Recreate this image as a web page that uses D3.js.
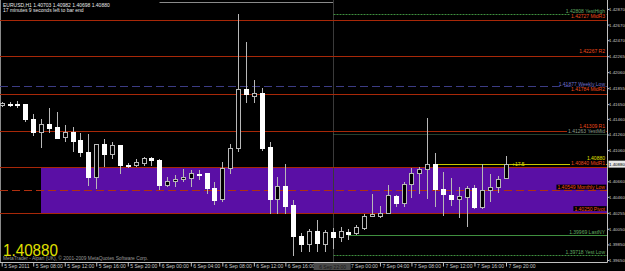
<!DOCTYPE html>
<html>
<head>
<meta charset="utf-8">
<script src="https://cdn.jsdelivr.net/npm/d3@7"></script>
<style>
body { margin: 0; background: #000; }
svg { display: block; font-family: "Liberation Sans", Arial, sans-serif; }
</style>
</head>
<body>
<div id="chart"></div>
<script>
// EURUSD H1, 5 Sep 2011 04:00 .. 7 Sep 2011 20:00
const firstBar = new Date(2011, 8, 5, 4);
const opens = [1.41638, 1.41657, 1.41654, 1.41647, 1.41455, 1.41288, 1.41395, 1.41352, 1.41224, 1.41292,
    1.41186, 1.41035, 1.40719, 1.41134, 1.41010, 1.41125, 1.40873, 1.40865, 1.40898, 1.40955,
    1.40929, 1.40608, 1.40663, 1.40685, 1.40706, 1.40757, 1.40766, 1.40578, 1.40429, 1.40826,
    1.41083, 1.41840, 1.41758, 1.41796, 1.41100, 1.40436, 1.40595, 1.40356, 1.39958, 1.39855,
    1.40026, 1.39851, 1.40005, 1.39949, 1.40013, 1.39992, 1.40064, 1.40214, 1.40211, 1.40257,
    1.40475, 1.40385, 1.40625, 1.40770, 1.40814, 1.40878, 1.40557, 1.40484, 1.40433, 1.40462,
    1.40578, 1.40326, 1.40552, 1.40590, 1.40703];
const highs = [1.41677, 1.41681, 1.41686, 1.41651, 1.41523, 1.41459, 1.41600, 1.41549, 1.41382, 1.41352,
    1.41279, 1.41266, 1.41138, 1.41198, 1.41168, 1.41128, 1.40898, 1.40942, 1.40975, 1.40975,
    1.40942, 1.40719, 1.40740, 1.40814, 1.40808, 1.40805, 1.40768, 1.40654, 1.40907, 1.41138,
    1.42806, 1.42443, 1.41959, 1.41860, 1.41160, 1.40719, 1.40882, 1.40420, 1.39996, 1.40048,
    1.40163, 1.40035, 1.40061, 1.40070, 1.40052, 1.40095, 1.40240, 1.40497, 1.40343, 1.40608,
    1.40480, 1.40647, 1.40826, 1.40847, 1.41476, 1.41027, 1.40775, 1.40698, 1.40590, 1.40599,
    1.40608, 1.40878, 1.40750, 1.40728, 1.40982];
const lows = [1.41626, 1.41632, 1.41617, 1.41437, 1.41254, 1.41103, 1.41296, 1.41215, 1.41180, 1.41052,
    1.40984, 1.40616, 1.40578, 1.40856, 1.40955, 1.40762, 1.40839, 1.40860, 1.40869, 1.40869,
    1.40565, 1.40603, 1.40599, 1.40667, 1.40603, 1.40689, 1.40513, 1.40368, 1.40407, 1.40770,
    1.41052, 1.41681, 1.41681, 1.41061, 1.40253, 1.40257, 1.40249, 1.39718, 1.39769, 1.39765,
    1.39769, 1.39769, 1.39804, 1.39898, 1.39916, 1.39984, 1.40044, 1.40211, 1.40202, 1.40249,
    1.40343, 1.40343, 1.40454, 1.40513, 1.40449, 1.40343, 1.40227, 1.40356, 1.40198, 1.40090,
    1.40313, 1.40313, 1.40411, 1.40526, 1.40698];
const closes = [1.41664, 1.41655, 1.41649, 1.41455, 1.41288, 1.41395, 1.41347, 1.41219, 1.41292, 1.41180,
    1.41035, 1.40715, 1.41134, 1.41010, 1.41125, 1.40865, 1.40865, 1.40911, 1.40955, 1.40929,
    1.40608, 1.40667, 1.40693, 1.40715, 1.40766, 1.40753, 1.40570, 1.40420, 1.40830, 1.41091,
    1.41840, 1.41776, 1.41796, 1.41091, 1.40436, 1.40599, 1.40347, 1.39958, 1.39855, 1.40022,
    1.39864, 1.40005, 1.39949, 1.40022, 1.39987, 1.40070, 1.40214, 1.40240, 1.40253, 1.40480,
    1.40385, 1.40621, 1.40762, 1.40814, 1.40878, 1.40557, 1.40493, 1.40433, 1.40467, 1.40578,
    1.40330, 1.40552, 1.40590, 1.40685, 1.40880];

const priceTicks = [1.42870, 1.42670, 1.42470, 1.42265, 1.42060, 1.41855, 1.41650, 1.41460, 1.41260,
    1.41060, 1.40660, 1.40460, 1.40255, 1.40050, 1.39850, 1.39650];

// horizontal levels drawn by indicators
const todayStart = new Date(2011, 8, 6, 22);
const nyStart = new Date(2011, 8, 7, 0);
const levelNames = ["YestHigh", "MidR3", "R2", "Weekly Low", "MidR2", "R1", "YestMid", "MidR1", "Monthly Low", "Pivot", "LastNY", "Yest Low"];
const levelPrices = [1.42808, 1.42727, 1.42267, 1.41877, 1.41784, 1.41309, 1.41263, 1.40840, 1.40549, 1.40250, 1.39969, 1.39718];
const levelKinds = ["day", "pivot", "pivot", "week", "pivot", "pivot", "mid", "pivot", "month", "pivot", "ny", "day"];
const levelStarts = [todayStart, null, null, null, null, null, todayStart, null, null, null, nyStart, todayStart];

const prevHigh = 1.42966, prevFrom = new Date(2011, 8, 6, 0);
const zoneTop = 1.40840, zoneBottom = 1.40250, zoneStart = new Date(2011, 8, 5, 9);
const bidFrom = new Date(2011, 8, 7, 11), bidPips = "+17.5";
const title = "EURUSD,H1  1.40703 1.40982 1.40698 1.40880";
const timer = "17 minutes 9 seconds left to bar end";
const copyright = "MetaTrader - Alpari (UK), \u00a9 2001-2009 MetaQuotes Software Corp.";

const W = 625, H = 271;
const plotRight = 607, plotBottom = 262;

const styles = {
    day:   {line: "#3f8f3f", dash: "2,1", text: "#62aa62"},
    pivot: {line: "#a82808", dash: null,  text: "#f04a1a"},
    week:  {line: "#3c3c84", dash: "8,4", text: "#7070cc"},
    mid:   {line: "#4d7d5a", dash: "1,1", text: "#8c9c8c"},
    month: {line: "#b03010", dash: "8,4", text: "#f04a1a"},
    ny:    {line: "#3f8f3f", dash: null,  text: "#62aa62"}
};

const bars = opens.map((o, i) => ({t: d3.timeHour.offset(firstBar, i), o: o, h: highs[i], l: lows[i], c: closes[i]}));
const last = bars[bars.length - 1];

const x = d3.scaleTime().domain([firstBar, last.t]).range([1.7, 506]);
const y = d3.scaleLinear().domain([1.39650, 1.42870]).range([260, 9]);
const px = v => Math.round(v) + 0.5;
const fmt = d3.format(".5f");

const svg = d3.select("#chart").append("svg")
    .attr("width", W)
    .attr("height", H);

svg.append("rect").attr("width", W).attr("height", H).attr("fill", "#000");

// purple zone
svg.append("rect")
    .attr("x", Math.round(x(zoneStart)))
    .attr("y", Math.round(y(zoneTop)))
    .attr("width", plotRight - Math.round(x(zoneStart)))
    .attr("height", Math.round(y(zoneBottom)) - Math.round(y(zoneTop)))
    .attr("fill", "#5a0fa5");

// frame
svg.append("line").attr("x1", 0.5).attr("x2", 0.5).attr("y1", 0).attr("y2", plotBottom).attr("stroke", "#8a8a8a");
svg.append("line").attr("x1", px(x(prevFrom))).attr("x2", px(x(todayStart)))
    .attr("y1", px(y(prevHigh))).attr("y2", px(y(prevHigh))).attr("stroke", "#8a8a8a");

// day separator
svg.append("line")
    .attr("x1", px(x(todayStart))).attr("x2", px(x(todayStart)))
    .attr("y1", 0).attr("y2", plotBottom)
    .attr("stroke", "#3a3a3a");

// level lines
const levels = levelNames.map((n, i) => ({name: n, price: levelPrices[i], kind: levelKinds[i], from: levelStarts[i]}));
svg.append("g").selectAll("line").data(levels).join("line")
    .attr("x1", d => d.from ? px(x(d.from)) : 0)
    .attr("x2", plotRight)
    .attr("y1", d => px(y(d.price)))
    .attr("y2", d => px(y(d.price)))
    .attr("stroke", d => styles[d.kind].line)
    .attr("stroke-dasharray", d => styles[d.kind].dash);

// bid line
svg.append("line")
    .attr("x1", px(x(bidFrom))).attr("x2", plotRight)
    .attr("y1", px(y(last.c))).attr("y2", px(y(last.c)))
    .attr("stroke", "#c8c800");

// candles
const cg = svg.append("g");
cg.selectAll("line").data(bars).join("line")
    .attr("x1", d => px(x(d.t)))
    .attr("x2", d => px(x(d.t)))
    .attr("y1", d => Math.round(y(d.h)))
    .attr("y2", d => Math.round(y(d.l)) + 1)
    .attr("stroke", "#b8b8b8");
cg.selectAll("rect").data(bars).join("rect")
    .attr("x", d => px(x(d.t)) - 2)
    .attr("width", 4)
    .attr("y", d => Math.round(y(Math.max(d.o, d.c))) + 0.5)
    .attr("height", d => Math.max(1, Math.round(y(Math.min(d.o, d.c))) - Math.round(y(Math.max(d.o, d.c)))))
    .attr("fill", d => d.c >= d.o ? "#000" : "#fff")
    .attr("stroke", d => d.c >= d.o ? "#b8b8b8" : "#fff");

// level labels
const lg = svg.append("g").style("font-size", "5px");
levels.forEach(d => {
    const t = lg.append("text")
        .attr("x", 605)
        .attr("y", y(d.price) - (d.kind === "pivot" ? 2.6 : 0.8))
        .attr("text-anchor", "end")
        .attr("fill", styles[d.kind].text)
        .text(fmt(d.price) + "  " + d.name);
    const bb = t.node().getBBox();
    lg.insert("rect", "text")
        .attr("x", bb.x - 1).attr("y", bb.y + 0.5)
        .attr("width", bb.width + 2).attr("height", bb.height - 1)
        .attr("fill", "#000");
});
lg.append("text")
    .attr("x", 605).attr("y", y(last.c) - 4.2)
    .attr("text-anchor", "end").attr("fill", "#e0e000")
    .text(fmt(last.c));
lg.append("text")
    .attr("x", x(last.t) + 6).attr("y", y(last.c) + 1.8)
    .attr("fill", "#e0e000")
    .text(bidPips);

// axes
svg.append("line").attr("x1", 0).attr("x2", plotRight + 0.5).attr("y1", plotBottom + 0.5).attr("y2", plotBottom + 0.5).attr("stroke", "#c0c0c0");
svg.append("line").attr("x1", plotRight + 0.5).attr("x2", plotRight + 0.5).attr("y1", 0).attr("y2", plotBottom + 0.5).attr("stroke", "#c0c0c0");

const yAxis = svg.append("g")
    .attr("transform", "translate(" + (plotRight + 0.5) + ",0)")
    .call(d3.axisRight(y).tickValues(priceTicks).tickSize(2).tickFormat(fmt));
yAxis.select(".domain").remove();
yAxis.selectAll("line").attr("stroke", "#c0c0c0");
yAxis.selectAll("text").attr("fill", "#c8c8c8").attr("x", 1.5)
    .style("font-size", "4.4px").style("font-family", "Liberation Sans, Arial, sans-serif");

// current price box
svg.append("rect").attr("x", plotRight + 1.5).attr("y", y(last.c) - 3.5).attr("width", 16.5).attr("height", 7).attr("fill", "#e8e8e8");
svg.append("text").attr("x", plotRight + 2).attr("y", y(last.c) + 1.6)
    .attr("fill", "#000").style("font-size", "4.4px").text(fmt(last.c));

const dayFmt = d3.timeFormat("%-d %b %Y"), hourFmt = d3.timeFormat("%-d %b %H:%M");
const xAxis = svg.append("g")
    .attr("transform", "translate(0," + (plotBottom + 0.5) + ")")
    .call(d3.axisBottom(x).ticks(d3.timeHour.every(4)).tickSize(4)
        .tickFormat((d, i) => i === 0 ? dayFmt(d) : hourFmt(d)));
xAxis.select(".domain").remove();
xAxis.selectAll("line").attr("stroke", "#c0c0c0");
xAxis.selectAll("text")
    .attr("fill", "#c8c8c8").attr("text-anchor", "start")
    .attr("x", 2).attr("y", 2).attr("dy", "0.71em")
    .style("font-size", "5px").style("font-family", "Liberation Sans, Arial, sans-serif");

// separator time box
const sepX = x(todayStart);
svg.append("rect").attr("x", sepX - 19).attr("y", plotBottom + 1).attr("width", 37).attr("height", 7).attr("fill", "#4a4a4a");
svg.append("text").attr("x", sepX).attr("y", plotBottom + 6.5).attr("text-anchor", "middle")
    .attr("fill", "#151515").style("font-size", "5px").text(hourFmt(todayStart));

// texts
svg.append("text").attr("x", 3).attr("y", 6.8).attr("fill", "#e8e8e8").style("font-size", "5px").text(title);
svg.append("text").attr("x", 3).attr("y", 11.8).attr("fill", "#e8e8e8").style("font-size", "5px").text(timer);
svg.append("text").attr("x", 3).attr("y", 256).attr("fill", "#e0e000")
    .attr("textLength", 55).attr("lengthAdjust", "spacingAndGlyphs")
    .style("font-size", "17px").text(fmt(last.c));
svg.append("text").attr("x", 3).attr("y", 259.5).attr("fill", "#9a9a9a")
    .attr("textLength", 145).attr("lengthAdjust", "spacingAndGlyphs")
    .style("font-size", "5px").text(copyright);
</script>
</body>
</html>
